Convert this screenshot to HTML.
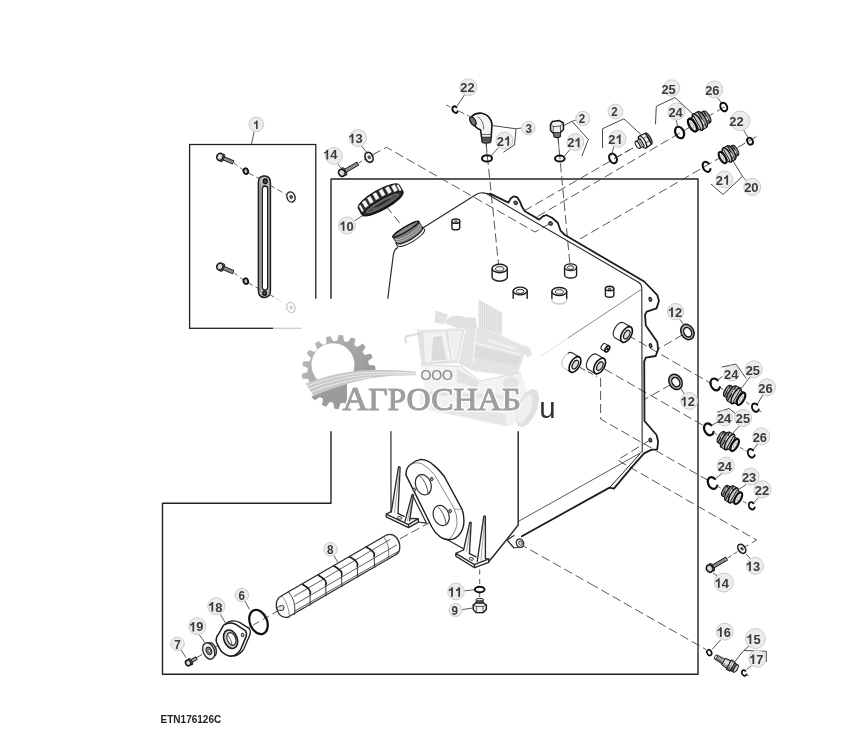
<!DOCTYPE html>
<html><head><meta charset="utf-8"><title>ETN176126C</title>
<style>
html,body{margin:0;padding:0;background:#fff;}
body{width:841px;height:731px;overflow:hidden;font-family:"Liberation Sans",sans-serif;}
svg{display:block;font-family:"Liberation Sans",sans-serif;}
.ser{font-family:"Liberation Serif",serif;}
</style></head><body>
<svg width="841" height="731" viewBox="0 0 841 731">
<defs>
<linearGradient id="fadeL" x1="0" x2="1" y1="0" y2="0"><stop offset="0" stop-color="#fff" stop-opacity="0"/><stop offset="1" stop-color="#fff" stop-opacity="1"/></linearGradient>
<linearGradient id="fadeR" x1="0" x2="1" y1="0" y2="0"><stop offset="0" stop-color="#fff" stop-opacity="1"/><stop offset="1" stop-color="#fff" stop-opacity="0"/></linearGradient>
<linearGradient id="metal" x1="0" x2="0" y1="0" y2="1"><stop offset="0" stop-color="#777"/><stop offset="0.35" stop-color="#d8d8d8"/><stop offset="0.7" stop-color="#8a8a8a"/><stop offset="1" stop-color="#444"/></linearGradient>
<linearGradient id="metal2" x1="0" x2="0" y1="0" y2="1"><stop offset="0" stop-color="#999"/><stop offset="0.4" stop-color="#eee"/><stop offset="1" stop-color="#777"/></linearGradient>
</defs>
<filter id="soft" x="0" y="0" width="100%" height="100%" filterUnits="userSpaceOnUse"><feGaussianBlur stdDeviation="0.4"/></filter>
<rect x="0" y="0" width="841" height="731" fill="#fff"/>
<g filter="url(#soft)">
<polygon points="331,179 698,179 698,674.3 162.5,674.3 162.5,503.3 331,503.3" fill="none" stroke="#222" stroke-width="1.4" stroke-linejoin="round" stroke-linecap="round" />
<rect x="189.6" y="144.5" width="126.2" height="183.8" fill="none" stroke="#222" stroke-width="1.3"/>
<polyline points="372.5,154.8 386.5,147.3 535,232 550,223.5" fill="none" stroke="#444" stroke-width="0.9" stroke-dasharray="9 4"/>
<line x1="386" y1="206" x2="402.5" y2="226.5" stroke="#444" stroke-width="0.9" stroke-dasharray="9 4"/>
<line x1="486" y1="143" x2="498.7" y2="266" stroke="#444" stroke-width="0.9" stroke-dasharray="9 4"/>
<line x1="558" y1="137.5" x2="570" y2="265" stroke="#444" stroke-width="0.9" stroke-dasharray="9 4"/>
<line x1="524" y1="211" x2="636" y2="146.2" stroke="#444" stroke-width="0.9" stroke-dasharray="9 4"/>
<line x1="617" y1="157" x2="632" y2="148.3" stroke="#444" stroke-width="0.9" stroke-dasharray="6 3"/>
<line x1="537.5" y1="216.5" x2="726" y2="106" stroke="#444" stroke-width="0.9" stroke-dasharray="9 4"/>
<line x1="580" y1="239" x2="760" y2="134.5" stroke="#444" stroke-width="0.9" stroke-dasharray="9 4"/>
<line x1="627.5" y1="335" x2="712" y2="384" stroke="#444" stroke-width="0.9" stroke-dasharray="9 4"/>
<line x1="683" y1="334.5" x2="657.5" y2="349.5" stroke="#444" stroke-width="0.9" stroke-dasharray="9 4"/>
<line x1="604.5" y1="369" x2="706" y2="427" stroke="#444" stroke-width="0.9" stroke-dasharray="9 4"/>
<line x1="580" y1="367.5" x2="597" y2="376.5" stroke="#444" stroke-width="0.9" stroke-dasharray="6 3"/>
<line x1="671" y1="384.5" x2="643.5" y2="400" stroke="#444" stroke-width="0.9" stroke-dasharray="9 4"/>
<polyline points="600.6,378 600.6,419 710,481.5" fill="none" stroke="#444" stroke-width="0.9" stroke-dasharray="9 4"/>
<polyline points="650,440 617.5,460 756.5,540 744,547.5" fill="none" stroke="#444" stroke-width="0.9" stroke-dasharray="9 4"/>
<line x1="590" y1="583.5" x2="706" y2="649.5" stroke="#444" stroke-width="0.9" stroke-dasharray="9 4"/>
<line x1="519" y1="543.5" x2="590" y2="583.5" stroke="#444" stroke-width="0.9" stroke-dasharray="9 4"/>
<line x1="400" y1="538.8" x2="437" y2="518.5" stroke="#444" stroke-width="0.9" stroke-dasharray="9 4"/>
<line x1="196" y1="658" x2="282" y2="608.5" stroke="#444" stroke-width="0.9" stroke-dasharray="7 4"/>
<line x1="479.7" y1="569.5" x2="479.7" y2="586.5" stroke="#444" stroke-width="0.9" stroke-dasharray="5 4.5"/>
<line x1="479.7" y1="592.5" x2="479.7" y2="597" stroke="#444" stroke-width="0.9" />
<path d="M397.6,247.6 Q394.2,249.8 393.4,254.5 L387.7,299 L390.9,431 L391,511.5" fill="none" stroke="#2a2a2a" stroke-width="1.2" stroke-linejoin="round" stroke-linecap="round" />
<path d="M420.8,229.2 L474.5,195.5 Q478.5,192.3 483,192.8 L492.8,194.6" fill="none" stroke="#2a2a2a" stroke-width="1.2" stroke-linejoin="round" stroke-linecap="round" />
<polyline points="490,193.6 508.5,202.6 510.7,198.5 513.5,196.4 517.1,197.1 519.9,201.4 522.1,207.1 524.9,211.3 539.2,219.6 542.8,216.4 546.3,215 552,217.8 557.8,222.8 560.6,230.7 564.9,235 644.2,281.5 657.3,295.2 659,301 656.5,308.4 646.7,311.7 645,314.9 645.8,325.6 657.3,342 658.1,349.4 655.7,356 645.8,357.6 644.2,361.7 644.5,421 656.6,435 658.1,441.6 657.2,449.3 651.1,449.9 644,453.4 631.2,467.9 613.9,488.7 609.5,487.6" fill="none" stroke="#1c1c1c" stroke-width="1.8" stroke-linejoin="round" stroke-linecap="round" />
<path d="M486.4,193.6 L638.5,282.2 Q641.6,284 641.8,288 L642.2,451.5" fill="none" stroke="#2a2a2a" stroke-width="1.1" stroke-linejoin="round" stroke-linecap="round" />
<path d="M639.8,454 L609.8,487.4" fill="none" stroke="#2a2a2a" stroke-width="1.0" stroke-linejoin="round" stroke-linecap="round" />
<path d="M609.5,487.6 L521.9,536.2" fill="none" stroke="#1c1c1c" stroke-width="1.8" stroke-linejoin="round" stroke-linecap="round" />
<path d="M642.3,451.8 L518.2,521.5" fill="none" stroke="#444" stroke-width="0.9" stroke-linejoin="round" stroke-linecap="round" />
<path d="M641.8,289 L541,356" fill="none" stroke="#666" stroke-width="0.8" stroke-linejoin="round" stroke-linecap="round" />
<path d="M518.2,372 L518.2,525 L494.1,555.2 L488.8,561.5" fill="none" stroke="#222" stroke-width="1.4" stroke-linejoin="round" stroke-linecap="round" />
<path d="M518.2,525 Q514,531 503.1,544.5" fill="none" stroke="#444" stroke-width="0.9" stroke-linejoin="round" stroke-linecap="round" />
<ellipse cx="515.7" cy="202.8" rx="1.9" ry="1.6" transform="rotate(30 515.7 202.8)" fill="#777" stroke="#2a2a2a" stroke-width="1.2" />
<ellipse cx="550.6" cy="223.5" rx="1.9" ry="1.6" transform="rotate(30 550.6 223.5)" fill="#777" stroke="#2a2a2a" stroke-width="1.2" />
<ellipse cx="650.3" cy="299.3" rx="1.3" ry="2.0" transform="rotate(-20 650.3 299.3)" fill="#666" stroke="#2a2a2a" stroke-width="1.2" />
<ellipse cx="650.6" cy="345.6" rx="1.3" ry="2.0" transform="rotate(-20 650.6 345.6)" fill="#666" stroke="#2a2a2a" stroke-width="1.2" />
<ellipse cx="650.4" cy="440.1" rx="1.3" ry="2.0" transform="rotate(-20 650.4 440.1)" fill="#666" stroke="#2a2a2a" stroke-width="1.2" />
<path d="M514,535.5 L507,540 L514,548 L520,547" fill="#fff" stroke="#2a2a2a" stroke-width="1.2" stroke-linejoin="round" stroke-linecap="round" />
<ellipse cx="520" cy="543.2" rx="3.6" ry="4.3" transform="rotate(-25 520 543.2)" fill="#fff" stroke="#2a2a2a" stroke-width="1.4" />
<ellipse cx="520.5" cy="543.2" rx="1.7" ry="2.2" transform="rotate(-25 520.5 543.2)" fill="#ddd" stroke="#444" stroke-width="0.9" />
<path d="M386.2,514.2 L391.2,511.6 M397.8,513.3 L404,516.3 M409.5,518.5 L418.3,518.7 L418.3,522.2 L408.5,527.6 L386.2,516.9 L386.2,514.2 L408.5,524.6 L418.3,518.7 M408.5,524.6 L408.5,527.6" fill="none" stroke="#2a2a2a" stroke-width="1.35" stroke-linejoin="round" stroke-linecap="round" />
<ellipse cx="399.6" cy="517.8" rx="2.3" ry="1.3" transform="rotate(15 399.6 517.8)" fill="none" stroke="#2a2a2a" stroke-width="0.9" />
<path d="M391.3,512 L398.5,467.2 Q399.3,466 400.1,467.5 L398,513.5" fill="#fff" stroke="#2a2a2a" stroke-width="1.35" stroke-linejoin="round" stroke-linecap="round" />
<path d="M394.5,512.8 L399.5,470" fill="none" stroke="#666" stroke-width="0.6" stroke-linejoin="round" stroke-linecap="round" />
<path d="M405,521.3 L412,495 Q412.8,493.8 413.5,495.2 L409.6,520.6" fill="#fff" stroke="#2a2a2a" stroke-width="1.35" stroke-linejoin="round" stroke-linecap="round" />
<path d="M407.4,521 L412.8,497" fill="none" stroke="#666" stroke-width="0.6" stroke-linejoin="round" stroke-linecap="round" />
<path d="M413.2,496.5 L426.4,523.1 L418.3,522" fill="none" stroke="#2a2a2a" stroke-width="1.2" stroke-linejoin="round" stroke-linecap="round" />
<path d="M455.8,553.4 L463.4,550 M469.5,553.6 L476,556.8 M485.5,558.6 L488.8,558.8 L488.8,562.4 L474.5,567.7 L455.8,556.1 L455.8,553.4 L474.5,564.6 L488.8,558.8 M474.5,564.6 L474.5,567.7" fill="none" stroke="#2a2a2a" stroke-width="1.35" stroke-linejoin="round" stroke-linecap="round" />
<ellipse cx="471.3" cy="558.8" rx="2.3" ry="1.3" transform="rotate(15 471.3 558.8)" fill="none" stroke="#2a2a2a" stroke-width="0.9" />
<path d="M463.6,550 L469.7,522.8 Q470.4,521.4 471.2,522.8 L469.4,553.6" fill="#fff" stroke="#2a2a2a" stroke-width="1.35" stroke-linejoin="round" stroke-linecap="round" />
<path d="M466.6,551.5 L470.6,525" fill="none" stroke="#666" stroke-width="0.6" stroke-linejoin="round" stroke-linecap="round" />
<path d="M477.2,561.5 L483.8,516.6 Q484.6,515.2 485.4,516.6 L485.4,558.8" fill="#fff" stroke="#2a2a2a" stroke-width="1.35" stroke-linejoin="round" stroke-linecap="round" />
<path d="M481,560 L484.8,519" fill="none" stroke="#666" stroke-width="0.6" stroke-linejoin="round" stroke-linecap="round" />
<path d="M447,539.5 L463,548.5" fill="none" stroke="#2a2a2a" stroke-width="1.2" stroke-linejoin="round" stroke-linecap="round" />
<path d="M406,475.1 Q405.6,468 410.8,464.2 Q415.5,460.2 421,459.4 Q427.5,459.6 433.4,464.9 Q439.5,470 444.3,476.5 L462.1,509.3 Q464.8,517 463.5,525.8 Q461.5,534.5 454.5,538.6 Q447,541.5 440,536.8 Q435,533 431.7,526.7 Z" fill="#fff" stroke="#1c1c1c" stroke-width="1.4" stroke-linejoin="round" stroke-linecap="round" />
<path d="M410.8,464.2 Q416.5,461.2 421.5,463.6 Q429,467.5 434.7,475.1 L453.9,508 Q457.5,515 457,524 Q455.5,533 449.5,538.8" fill="none" stroke="#555" stroke-width="0.7" stroke-linejoin="round" stroke-linecap="round" />
<path d="M454.6,509.2 L462.1,509.3" fill="none" stroke="#666" stroke-width="0.6" stroke-linejoin="round" stroke-linecap="round" />
<ellipse cx="423.3" cy="484.7" rx="7.7" ry="10.4" transform="rotate(-20 423.3 484.7)" fill="none" stroke="#2a2a2a" stroke-width="1.2" />
<path d="M419.6,475.8 Q426.4,481 428.4,494" fill="none" stroke="#444" stroke-width="0.9" stroke-linejoin="round" stroke-linecap="round" />
<ellipse cx="441.2" cy="515.5" rx="7.7" ry="10.4" transform="rotate(-20 441.2 515.5)" fill="none" stroke="#2a2a2a" stroke-width="1.2" />
<path d="M437.5,506.6 Q444.3,511.8 446.3,524.8" fill="none" stroke="#444" stroke-width="0.9" stroke-linejoin="round" stroke-linecap="round" />
<ellipse cx="431.7" cy="479" rx="1.4" ry="1.7" transform="rotate(-18 431.7 479)" fill="#999" stroke="#333" stroke-width="0.9" />
<ellipse cx="414.2" cy="489.8" rx="1.4" ry="1.7" transform="rotate(-18 414.2 489.8)" fill="#999" stroke="#333" stroke-width="0.9" />
<ellipse cx="450.2" cy="511" rx="1.4" ry="1.7" transform="rotate(-18 450.2 511)" fill="#999" stroke="#333" stroke-width="0.9" />
<path d="M281.6,595.8 L387,534.8 Q392.5,533.2 396.5,537.5 Q401.5,544.5 399,551.4 Q397.8,553.8 395.6,554.8 L288.6,616.8 Q283.5,618.8 279.3,614.4 Q274.8,607.5 277,600.4 Q278.5,597 281.6,595.8 Z" fill="#fff" stroke="#2a2a2a" stroke-width="1.3" stroke-linejoin="round" stroke-linecap="round" />
<path d="M288.6,592 Q296.5,601 294.6,614.6" fill="none" stroke="#333" stroke-width="0.9" stroke-linejoin="round" stroke-linecap="round" />
<path d="M281.6,595.8 Q288.8,603 289.6,617.8" fill="none" stroke="#666" stroke-width="0.7" stroke-linejoin="round" stroke-linecap="round" />
<ellipse cx="281.6" cy="608" rx="2.2" ry="2.6" transform="rotate(28 281.6 608)" fill="#eee" stroke="#2a2a2a" stroke-width="0.9" />
<path d="M279.8,606 L277.8,607.2 Q276.6,608.6 277.8,610.2 L280,610.3" fill="#fff" stroke="#2a2a2a" stroke-width="0.8" stroke-linejoin="round" stroke-linecap="round" />
<path d="M383.5,536.7 Q391,545 388,560" fill="none" stroke="#555" stroke-width="0.8" stroke-linejoin="round" stroke-linecap="round" />
<path d="M294,596.5 L390,539.5 M295.5,604 L396.5,545 M295,611 L398,551.5" fill="none" stroke="#333" stroke-width="0.8" stroke-linejoin="round" stroke-linecap="round" />
<path d="M302.8,584.4 Q312.1,589.9 310.1,593.9" fill="none" stroke="#1a1a1a" stroke-width="1.7" stroke-linejoin="round" stroke-linecap="round" />
<path d="M310.1,593.9 Q310.1,598.9 310.1,605.4" fill="none" stroke="#333" stroke-width="1.0" stroke-linejoin="round" stroke-linecap="round" />
<path d="M318.4,575.2 Q327.8,580.6 325.8,584.6" fill="none" stroke="#1a1a1a" stroke-width="1.7" stroke-linejoin="round" stroke-linecap="round" />
<path d="M325.8,584.6 Q325.8,589.6 326.0,596.0" fill="none" stroke="#333" stroke-width="1.0" stroke-linejoin="round" stroke-linecap="round" />
<path d="M334.0,566.0 Q343.6,571.3 341.6,575.3" fill="none" stroke="#1a1a1a" stroke-width="1.7" stroke-linejoin="round" stroke-linecap="round" />
<path d="M341.6,575.3 Q341.6,580.3 341.9,586.7" fill="none" stroke="#333" stroke-width="1.0" stroke-linejoin="round" stroke-linecap="round" />
<path d="M349.6,556.8 Q359.3,562.1 357.3,566.1" fill="none" stroke="#1a1a1a" stroke-width="1.7" stroke-linejoin="round" stroke-linecap="round" />
<path d="M357.3,566.1 Q357.3,571.1 357.8,577.3" fill="none" stroke="#333" stroke-width="1.0" stroke-linejoin="round" stroke-linecap="round" />
<path d="M366.2,547.0 Q376.1,552.2 374.1,556.2" fill="none" stroke="#1a1a1a" stroke-width="1.7" stroke-linejoin="round" stroke-linecap="round" />
<path d="M374.1,556.2 Q374.1,561.2 374.8,567.3" fill="none" stroke="#333" stroke-width="1.0" stroke-linejoin="round" stroke-linecap="round" />
<g transform="translate(405.8,229.2) rotate(-31)">
<path d="M-15.8,7 L-15.8,9.8 A15.8,4.4 0 0 0 15.8,9.8 L15.8,7 Z" fill="#f0f0f0" stroke="#1c1c1c" stroke-width="1.0"/>
<path d="M-15,0 L-15,7.2 A15,4.2 0 0 0 15,7.2 L15,0 Z" fill="#7c7c7c" stroke="#1c1c1c" stroke-width="1.2"/>
<path d="M-15,2.4 A15,4.2 0 0 0 15,2.4 M-15,4.6 A15,4.2 0 0 0 15,4.6" fill="none" stroke="#c8c8c8" stroke-width="0.8"/>
<ellipse cx="0" cy="0" rx="15" ry="2.4" fill="#8a8a8a" stroke="#111" stroke-width="1.4"/>
</g>
<g transform="translate(380.9,200.4) rotate(-29.5)">
<path d="M-23.5,3.2 L-23.5,-4.2 A23.5,6.2 0 0 1 23.5,-4.2 L23.5,3.2 A23.5,6.2 0 0 1 -23.5,3.2 Z" fill="#2c2c2c" stroke="#111" stroke-width="1.2"/>
<rect x="-22.3" y="-6.3" width="2.6" height="7.2" fill="#f6f6f6" stroke="#222" stroke-width="0.5"/>
<rect x="-17.6" y="-8.2" width="4.4" height="7.2" fill="#f6f6f6" stroke="#222" stroke-width="0.5"/>
<rect x="-11.2" y="-9.2" width="4.4" height="7.2" fill="#f6f6f6" stroke="#222" stroke-width="0.5"/>
<rect x="-4.4" y="-9.7" width="4.4" height="7.2" fill="#f6f6f6" stroke="#222" stroke-width="0.5"/>
<rect x="2.6" y="-9.6" width="4.4" height="7.2" fill="#f6f6f6" stroke="#222" stroke-width="0.5"/>
<rect x="9.4" y="-8.9" width="4.4" height="7.2" fill="#f6f6f6" stroke="#222" stroke-width="0.5"/>
<rect x="15.6" y="-7.5" width="4.4" height="7.2" fill="#f6f6f6" stroke="#222" stroke-width="0.5"/>
<rect x="20.7" y="-5.7" width="2.6" height="7.2" fill="#f6f6f6" stroke="#222" stroke-width="0.5"/>
<ellipse cx="0" cy="3.6" rx="22.5" ry="4.6" fill="#333" stroke="#111" stroke-width="1.0"/>
<ellipse cx="0" cy="3.4" rx="18" ry="3.0" fill="#4c4c4c" stroke="#999" stroke-width="0.6"/>
<ellipse cx="0" cy="3.2" rx="11" ry="1.6" fill="#2c2c2c" stroke="#888" stroke-width="0.5"/>
</g>
<path d="M451.90000000000003,221.2 L451.90000000000003,227.7 A3.9,2.145 0 0 0 459.7,227.7 L459.7,221.2" fill="#fff" stroke="#1c1c1c" stroke-width="1.4" stroke-linejoin="round" stroke-linecap="round" />
<ellipse cx="455.8" cy="221.2" rx="3.9" ry="2.145" transform="rotate(0 455.8 221.2)" fill="#fff" stroke="#1c1c1c" stroke-width="1.4" />
<ellipse cx="455.8" cy="221.6" rx="1.365" ry="0.7507499999999999" transform="rotate(0 455.8 221.6)" fill="#f2f2f2" stroke="#333" stroke-width="1.0" />
<path d="M492.09999999999997,268.5 L492.09999999999997,277.0 A7.6,4.18 0 0 0 507.3,277.0 L507.3,268.5" fill="#fff" stroke="#1c1c1c" stroke-width="1.4" stroke-linejoin="round" stroke-linecap="round" />
<ellipse cx="499.7" cy="268.5" rx="7.6" ry="4.18" transform="rotate(0 499.7 268.5)" fill="#fff" stroke="#1c1c1c" stroke-width="1.4" />
<ellipse cx="499.7" cy="268.9" rx="4.18" ry="2.299" transform="rotate(0 499.7 268.9)" fill="#f2f2f2" stroke="#333" stroke-width="1.0" />
<path d="M564.6,267.2 L564.6,274.7 A6.0,3.3000000000000003 0 0 0 576.6,274.7 L576.6,267.2" fill="#fff" stroke="#1c1c1c" stroke-width="1.4" stroke-linejoin="round" stroke-linecap="round" />
<ellipse cx="570.6" cy="267.2" rx="6.0" ry="3.3000000000000003" transform="rotate(0 570.6 267.2)" fill="#fff" stroke="#1c1c1c" stroke-width="1.4" />
<ellipse cx="570.6" cy="267.59999999999997" rx="3.3000000000000003" ry="1.8150000000000004" transform="rotate(0 570.6 267.59999999999997)" fill="#f2f2f2" stroke="#333" stroke-width="1.0" />
<path d="M551.9,291.5 L551.9,300.0 A7.4,4.07 0 0 0 566.6999999999999,300.0 L566.6999999999999,291.5" fill="#fff" stroke="#1c1c1c" stroke-width="1.4" stroke-linejoin="round" stroke-linecap="round" />
<ellipse cx="559.3" cy="291.5" rx="7.4" ry="4.07" transform="rotate(0 559.3 291.5)" fill="#fff" stroke="#1c1c1c" stroke-width="1.4" />
<ellipse cx="559.3" cy="291.9" rx="4.07" ry="2.2385" transform="rotate(0 559.3 291.9)" fill="#f2f2f2" stroke="#333" stroke-width="1.0" />
<path d="M605.4,288.5 L605.4,295.0 A4.2,2.3100000000000005 0 0 0 613.8000000000001,295.0 L613.8000000000001,288.5" fill="#fff" stroke="#1c1c1c" stroke-width="1.4" stroke-linejoin="round" stroke-linecap="round" />
<ellipse cx="609.6" cy="288.5" rx="4.2" ry="2.3100000000000005" transform="rotate(0 609.6 288.5)" fill="#fff" stroke="#1c1c1c" stroke-width="1.4" />
<ellipse cx="609.6" cy="288.9" rx="1.47" ry="0.8085000000000001" transform="rotate(0 609.6 288.9)" fill="#f2f2f2" stroke="#333" stroke-width="1.0" />
<path d="M513.2,291 L513.2,299 A7.0,3.8500000000000005 0 0 0 527.2,299 L527.2,291" fill="#fff" stroke="#1c1c1c" stroke-width="1.4" stroke-linejoin="round" stroke-linecap="round" />
<ellipse cx="520.2" cy="291" rx="7.0" ry="3.8500000000000005" transform="rotate(0 520.2 291)" fill="#fff" stroke="#1c1c1c" stroke-width="1.4" />
<ellipse cx="520.2" cy="291.4" rx="3.8500000000000005" ry="2.1175000000000006" transform="rotate(0 520.2 291.4)" fill="#f2f2f2" stroke="#333" stroke-width="1.0" />
<g transform="translate(626.5,334.5) rotate(30)">
<path d="M0,-8.6 L-8.5,-8.6 A4.73,8.6 0 0 0 -8.5,8.6 L0,8.6" fill="#fff" stroke="#2a2a2a" stroke-width="1.1"/>
<ellipse cx="0" cy="0" rx="4.73" ry="8.6" fill="#fff" stroke="#111" stroke-width="1.6"/>
<ellipse cx="0.3" cy="0" rx="2.6015000000000006" ry="4.73" fill="#ddd" stroke="#222" stroke-width="1.2"/>
</g>
<g transform="translate(575,364.5) rotate(30)">
<path d="M0,-8.6 L-8.5,-8.6 A4.73,8.6 0 0 0 -8.5,8.6 L0,8.6" fill="#fff" stroke="#2a2a2a" stroke-width="1.1"/>
<ellipse cx="0" cy="0" rx="4.73" ry="8.6" fill="#fff" stroke="#111" stroke-width="1.6"/>
<ellipse cx="0.3" cy="0" rx="2.6015000000000006" ry="4.73" fill="#ddd" stroke="#222" stroke-width="1.2"/>
</g>
<g transform="translate(599.6,366) rotate(30)">
<path d="M0,-8.6 L-8.5,-8.6 A4.73,8.6 0 0 0 -8.5,8.6 L0,8.6" fill="#fff" stroke="#2a2a2a" stroke-width="1.1"/>
<ellipse cx="0" cy="0" rx="4.73" ry="8.6" fill="#fff" stroke="#111" stroke-width="1.6"/>
<ellipse cx="0.3" cy="0" rx="2.6015000000000006" ry="4.73" fill="#ddd" stroke="#222" stroke-width="1.2"/>
</g>
<g transform="translate(607.3,348.8) rotate(30)">
<path d="M0,-3.4 L-4.5,-3.4 A1.87,3.4 0 0 0 -4.5,3.4 L0,3.4" fill="#fff" stroke="#2a2a2a" stroke-width="1.1"/>
<ellipse cx="0" cy="0" rx="1.87" ry="3.4" fill="#fff" stroke="#111" stroke-width="1.6"/>
<ellipse cx="0.3" cy="0" rx="0.561" ry="1.02" fill="#ddd" stroke="#222" stroke-width="1.2"/>
</g>
<path d="M258.4,182.5 Q258.2,176.6 263.5,176 Q268.5,175.6 269.9,179.5 Q270.4,181 270.4,183.5 L270.4,291 Q270.2,296 266,297.3 Q261.5,298 259.4,295 Q258.4,293 258.4,290.5 Z" fill="#b8b8b8" stroke="#1c1c1c" stroke-width="1.5" stroke-linejoin="round" stroke-linecap="round" />
<path d="M262.3,189 Q262.3,186.2 264.8,186 Q267.6,186 267.7,189 L267.7,287.5 Q267.5,290 265,290.2 Q262.5,290 262.3,287.5 Z" fill="#fff" stroke="#1c1c1c" stroke-width="1.3" stroke-linejoin="round" stroke-linecap="round" />
<path d="M260.2,184 L260.2,292" fill="none" stroke="#666" stroke-width="0.6" stroke-linejoin="round" stroke-linecap="round" />
<ellipse cx="265.3" cy="181.3" rx="1.9" ry="2.3" transform="rotate(0 265.3 181.3)" fill="#555" stroke="#111" stroke-width="1.4" />
<ellipse cx="264.6" cy="293.3" rx="1.8" ry="2.1" transform="rotate(0 264.6 293.3)" fill="#555" stroke="#111" stroke-width="1.3" />
<g transform="translate(220.3,157) rotate(22.651891652090654)">
<rect x="2" y="-1.7" width="11.8" height="3.4" fill="#c4c4c4" stroke="#1c1c1c" stroke-width="1.0"/>
<path d="M6.0,-1.7 L6.0,1.7 M7.5,-1.7 L7.5,1.7 M9.0,-1.7 L9.0,1.7 M10.5,-1.7 L10.5,1.7 M12.0,-1.7 L12.0,1.7 " stroke="#333" stroke-width="0.55"/>
<ellipse cx="2.2" cy="0" rx="1.8" ry="4.0" fill="#bbb" stroke="#1c1c1c" stroke-width="1.0"/>
<ellipse cx="-0.4" cy="0" rx="3.096" ry="3.6" fill="#d8d8d8" stroke="#151515" stroke-width="1.6"/>
<ellipse cx="-0.6" cy="0" rx="1.4400000000000002" ry="1.8" fill="#f4f4f4" stroke="#999" stroke-width="0.5"/>
</g>
<g transform="translate(220.3,266.7) rotate(22.651891652090654)">
<rect x="2" y="-1.7" width="11.8" height="3.4" fill="#c4c4c4" stroke="#1c1c1c" stroke-width="1.0"/>
<path d="M6.0,-1.7 L6.0,1.7 M7.5,-1.7 L7.5,1.7 M9.0,-1.7 L9.0,1.7 M10.5,-1.7 L10.5,1.7 M12.0,-1.7 L12.0,1.7 " stroke="#333" stroke-width="0.55"/>
<ellipse cx="2.2" cy="0" rx="1.8" ry="4.0" fill="#bbb" stroke="#1c1c1c" stroke-width="1.0"/>
<ellipse cx="-0.4" cy="0" rx="3.096" ry="3.6" fill="#d8d8d8" stroke="#151515" stroke-width="1.6"/>
<ellipse cx="-0.6" cy="0" rx="1.4400000000000002" ry="1.8" fill="#f4f4f4" stroke="#999" stroke-width="0.5"/>
</g>
<ellipse cx="245.8" cy="171.2" rx="2.3" ry="2.9" transform="rotate(-20 245.8 171.2)" fill="#bbb" stroke="#111" stroke-width="1.8" />
<ellipse cx="245.8" cy="281.2" rx="2.3" ry="2.9" transform="rotate(-20 245.8 281.2)" fill="#bbb" stroke="#111" stroke-width="1.8" />
<g opacity="1">
<ellipse cx="291" cy="197" rx="4.0" ry="5.2" transform="rotate(-20 291 197)" fill="#f4f4f4" stroke="#1c1c1c" stroke-width="1.4" />
<ellipse cx="291.2" cy="197" rx="1.32" ry="1.7160000000000002" transform="rotate(-20 291.2 197)" fill="#555" stroke="#333" stroke-width="0.8" />
</g>
<g opacity="1">
<ellipse cx="291" cy="307.5" rx="4.0" ry="5.2" transform="rotate(-20 291 307.5)" fill="#f4f4f4" stroke="#1c1c1c" stroke-width="1.4" />
<ellipse cx="291.2" cy="307.5" rx="1.32" ry="1.7160000000000002" transform="rotate(-20 291.2 307.5)" fill="#555" stroke="#333" stroke-width="0.8" />
</g>
<line x1="233.5" y1="162.8" x2="243" y2="169.8" stroke="#444" stroke-width="0.8" stroke-dasharray="5 3"/>
<line x1="249" y1="173.3" x2="259.5" y2="178.8" stroke="#444" stroke-width="0.8" stroke-dasharray="5 3"/>
<line x1="269.5" y1="184.8" x2="286" y2="194.5" stroke="#444" stroke-width="0.8" stroke-dasharray="6 3"/>
<line x1="233.5" y1="272.6" x2="243" y2="279.6" stroke="#444" stroke-width="0.8" stroke-dasharray="5 3"/>
<line x1="248.5" y1="283" x2="261" y2="290" stroke="#444" stroke-width="0.8" stroke-dasharray="5 3"/>
<line x1="269" y1="294" x2="286" y2="304.5" stroke="#444" stroke-width="0.8" stroke-dasharray="6 3"/>
<g transform="translate(342.2,172.6) rotate(-29.9816393688493)">
<rect x="2" y="-1.7" width="16.0" height="3.4" fill="#c4c4c4" stroke="#1c1c1c" stroke-width="1.0"/>
<path d="M6.0,-1.7 L6.0,1.7 M7.5,-1.7 L7.5,1.7 M9.0,-1.7 L9.0,1.7 M10.5,-1.7 L10.5,1.7 M12.0,-1.7 L12.0,1.7 M13.5,-1.7 L13.5,1.7 M15.0,-1.7 L15.0,1.7 M16.5,-1.7 L16.5,1.7 " stroke="#333" stroke-width="0.55"/>
<ellipse cx="2.2" cy="0" rx="1.85" ry="4.1000000000000005" fill="#bbb" stroke="#1c1c1c" stroke-width="1.0"/>
<ellipse cx="-0.4" cy="0" rx="3.182" ry="3.7" fill="#d8d8d8" stroke="#151515" stroke-width="1.6"/>
<ellipse cx="-0.6" cy="0" rx="1.4800000000000002" ry="1.85" fill="#f4f4f4" stroke="#999" stroke-width="0.5"/>
</g>
<g opacity="1">
<ellipse cx="369" cy="157.3" rx="3.8" ry="5.2" transform="rotate(-25 369 157.3)" fill="#f4f4f4" stroke="#1c1c1c" stroke-width="1.7" />
<ellipse cx="369.2" cy="157.3" rx="1.14" ry="1.56" transform="rotate(-25 369.2 157.3)" fill="#555" stroke="#333" stroke-width="0.8" />
</g>
<line x1="358.5" y1="163" x2="365" y2="159.5" stroke="#444" stroke-width="0.8" stroke-dasharray="4 2"/>
<line x1="446" y1="105" x2="452" y2="107.8" stroke="#444" stroke-width="0.8" stroke-dasharray="5 3"/>
<line x1="459" y1="111.2" x2="471" y2="117" stroke="#444" stroke-width="0.8" stroke-dasharray="6 3"/>
<g transform="translate(455.1,109.6) rotate(-25)">
<path d="M2.18,-1.48 A2.4,3.5 0 1 0 1.70,2.47" fill="none" stroke="#111" stroke-width="1.9" stroke-linecap="round"/>
</g>
<g>
<path d="M472,116 Q476,112.5 482,113.2 Q490.5,115 492,124 L491.2,137.5 L481.6,137.5 L480.6,130 Q477,128.5 474.2,125.5 Z" fill="#f4f4f4" stroke="#151515" stroke-width="1.6" stroke-linejoin="round" stroke-linecap="round" />
<path d="M471,117.5 L475.2,125.8" fill="none" stroke="#2a2a2a" stroke-width="1.0" stroke-linejoin="round" stroke-linecap="round" />
<ellipse cx="472.9" cy="121.2" rx="2.5" ry="4.6" transform="rotate(-28 472.9 121.2)" fill="#777" stroke="#151515" stroke-width="1.3" />
<path d="M481.6,137.5 L481.9,141.6 A4.4,1.6 0 0 0 490.8,141.6 L491.2,137.5" fill="#666" stroke="#151515" stroke-width="1.2" stroke-linejoin="round" stroke-linecap="round" />
<path d="M481.7,139 L491,139 M481.8,140.5 L490.9,140.5" fill="none" stroke="#333" stroke-width="0.6" stroke-linejoin="round" stroke-linecap="round" />
<path d="M478,117 Q483.5,120 483.8,129 M481.6,134.5 L491.2,134.5" fill="none" stroke="#444" stroke-width="0.8" stroke-linejoin="round" stroke-linecap="round" />
</g>
<ellipse cx="487" cy="158.4" rx="5.0" ry="3.1" transform="rotate(0 487 158.4)" fill="none" stroke="#111" stroke-width="2.0" />
<line x1="486.3" y1="143.5" x2="486.9" y2="154.5" stroke="#444" stroke-width="0.8" stroke-dasharray="5 3"/>
<g>
<path d="M550.4,124.5 L552.5,121.5 L559.5,120.6 L563.3,123 L563.5,129.5 L560.5,132.5 L553,133 L550.6,130.5 Z" fill="#f2f2f2" stroke="#151515" stroke-width="1.5" stroke-linejoin="round" stroke-linecap="round" />
<path d="M550.4,124.5 L553.4,126.6 L560.4,126 L563.3,123 M553.4,126.6 L553,133 M560.4,126 L560.5,132.5" fill="none" stroke="#333" stroke-width="0.8" stroke-linejoin="round" stroke-linecap="round" />
<path d="M553.8,133 L553.9,136.6 A3.3,1.2 0 0 0 560.4,136.6 L560.4,132.6" fill="#777" stroke="#151515" stroke-width="1.1" stroke-linejoin="round" stroke-linecap="round" />
</g>
<ellipse cx="559.8" cy="158.6" rx="4.8" ry="3.0" transform="rotate(0 559.8 158.6)" fill="none" stroke="#111" stroke-width="2.0" />
<line x1="558.2" y1="138.5" x2="559.5" y2="155" stroke="#444" stroke-width="0.8" stroke-dasharray="5 3"/>
<ellipse cx="613" cy="158.4" rx="3.6" ry="5.0" transform="rotate(-25 613 158.4)" fill="none" stroke="#111" stroke-width="2.1" />
<g transform="translate(643.4,141.6) rotate(150) scale(0.95)">
<ellipse cx="-6" cy="0" rx="2.6" ry="6.6" fill="#666" stroke="#111" stroke-width="1.0"/>
<path d="M-6,-6.6 L1,-7.2 L1,7.2 L-6,6.6 Z" fill="#f0f0f0" stroke="#111" stroke-width="1.2"/>
<path d="M-6,-2.4 L1,-2.6 M-6,2.8 L1,3" stroke="#333" stroke-width="0.7"/>
<ellipse cx="1" cy="0" rx="2.8" ry="7.2" fill="#e4e4e4" stroke="#111" stroke-width="1.2"/>
<path d="M1.5,-4.4 L7,-4.2 L7,4.2 L1.5,4.4 Z" fill="#ddd" stroke="#111" stroke-width="1.0"/>
<path d="M3.3,-4.4 L3.3,4.4 M5,-4.3 L5,4.3" stroke="#333" stroke-width="0.6"/>
<ellipse cx="7" cy="0" rx="1.8" ry="4.2" fill="#fff" stroke="#111" stroke-width="1.1"/>
</g>
<ellipse cx="679.6" cy="132.5" rx="4.2" ry="6.0" transform="rotate(-25 679.6 132.5)" fill="none" stroke="#111" stroke-width="2.2" />
<g transform="translate(698.6,121.6) rotate(150) scale(1.05)">
<ellipse cx="-9" cy="0" rx="2.6" ry="6.2" fill="#9a9a9a" stroke="#111" stroke-width="1.1"/>
<path d="M-9,-6.2 L-4,-6.4 L-4,6.4 L-9,6.2 Z" fill="#a4a4a4" stroke="#111" stroke-width="1.0"/>
<path d="M-9,-3.2 L-4,-3.4 L-4,0.4 L-9,0.4 Z" fill="#e8e8e8"/>
<path d="M-7.4,-6.3 L-7.4,6.3 M-5.8,-6.3 L-5.8,6.3" stroke="#333" stroke-width="0.55"/>
<ellipse cx="-4" cy="0" rx="3.2" ry="8.6" fill="#909090" stroke="#111" stroke-width="1.1"/>
<path d="M-4,-8.6 L1,-8.8 L1,8.8 L-4,8.6 Z" fill="#bdbdbd" stroke="#111" stroke-width="1.0"/>
<path d="M-4,-5 L1,-5.2 L1,0.2 L-4,0.2 Z" fill="#f8f8f8"/>
<path d="M-4,-5 L1,-5.2 M-4,3.4 L1,3.6" stroke="#222" stroke-width="0.6"/>
<ellipse cx="1" cy="0" rx="3.2" ry="8.8" fill="#cdcdcd" stroke="#111" stroke-width="1.4"/>
<path d="M1.5,-7 L6.5,-6.8 L6.5,6.8 L1.5,7 Z" fill="#dcdcdc" stroke="#111" stroke-width="0.9"/>
<path d="M3.4,-7 L3.4,7" stroke="#222" stroke-width="0.8"/>
<ellipse cx="6.8" cy="0" rx="3.0" ry="6.8" fill="#fff" stroke="#0c0c0c" stroke-width="2.2"/>
<ellipse cx="7.2" cy="0" rx="1.2" ry="3.2" fill="#efefef" stroke="#666" stroke-width="0.5"/>
</g>
<ellipse cx="723.8" cy="107" rx="3.2" ry="4.4" transform="rotate(-25 723.8 107)" fill="none" stroke="#111" stroke-width="2.0" />
<g transform="translate(706.6,166.8) rotate(-25)">
<path d="M3.26,-2.24 A3.6,5.3 0 1 0 2.55,3.75" fill="none" stroke="#111" stroke-width="2.1" stroke-linecap="round"/>
</g>
<g transform="translate(728,154.5) rotate(150) scale(0.92)">
<ellipse cx="-9" cy="0" rx="2.6" ry="6.2" fill="#9a9a9a" stroke="#111" stroke-width="1.1"/>
<path d="M-9,-6.2 L-4,-6.4 L-4,6.4 L-9,6.2 Z" fill="#a4a4a4" stroke="#111" stroke-width="1.0"/>
<path d="M-9,-3.2 L-4,-3.4 L-4,0.4 L-9,0.4 Z" fill="#e8e8e8"/>
<path d="M-7.4,-6.3 L-7.4,6.3 M-5.8,-6.3 L-5.8,6.3" stroke="#333" stroke-width="0.55"/>
<ellipse cx="-4" cy="0" rx="3.2" ry="8.6" fill="#909090" stroke="#111" stroke-width="1.1"/>
<path d="M-4,-8.6 L1,-8.8 L1,8.8 L-4,8.6 Z" fill="#bdbdbd" stroke="#111" stroke-width="1.0"/>
<path d="M-4,-5 L1,-5.2 L1,0.2 L-4,0.2 Z" fill="#f8f8f8"/>
<path d="M-4,-5 L1,-5.2 M-4,3.4 L1,3.6" stroke="#222" stroke-width="0.6"/>
<ellipse cx="1" cy="0" rx="3.2" ry="8.8" fill="#cdcdcd" stroke="#111" stroke-width="1.4"/>
<path d="M1.5,-7 L6.5,-6.8 L6.5,6.8 L1.5,7 Z" fill="#dcdcdc" stroke="#111" stroke-width="0.9"/>
<path d="M3.4,-7 L3.4,7" stroke="#222" stroke-width="0.8"/>
<ellipse cx="6.8" cy="0" rx="3.0" ry="6.8" fill="#fff" stroke="#0c0c0c" stroke-width="2.2"/>
<ellipse cx="7.2" cy="0" rx="1.2" ry="3.2" fill="#efefef" stroke="#666" stroke-width="0.5"/>
</g>
<ellipse cx="750" cy="141.2" rx="2.7" ry="3.6" transform="rotate(-25 750 141.2)" fill="none" stroke="#111" stroke-width="1.9" />
<ellipse cx="687.4" cy="332" rx="6.3" ry="8.0" transform="rotate(-30 687.4 332)" fill="#b4b4b4" stroke="#151515" stroke-width="1.5" />
<ellipse cx="687.6999999999999" cy="332.2" rx="3.7" ry="5.0" transform="rotate(-30 687.6999999999999 332.2)" fill="#fff" stroke="#151515" stroke-width="1.4" />
<ellipse cx="675.5" cy="381.9" rx="6.3" ry="8.0" transform="rotate(-30 675.5 381.9)" fill="#b4b4b4" stroke="#151515" stroke-width="1.5" />
<ellipse cx="675.8" cy="382.09999999999997" rx="3.7" ry="5.0" transform="rotate(-30 675.8 382.09999999999997)" fill="#fff" stroke="#151515" stroke-width="1.4" />
<g transform="translate(715.2,384.4) rotate(-25)">
<path d="M3.99,-2.62 A4.4,6.2 0 1 0 3.11,4.38" fill="none" stroke="#111" stroke-width="2.2" stroke-linecap="round"/>
</g>
<g transform="translate(735.2,395.4) rotate(30) scale(1.0)">
<ellipse cx="-9" cy="0" rx="2.6" ry="6.2" fill="#9a9a9a" stroke="#111" stroke-width="1.1"/>
<path d="M-9,-6.2 L-4,-6.4 L-4,6.4 L-9,6.2 Z" fill="#a4a4a4" stroke="#111" stroke-width="1.0"/>
<path d="M-9,-3.2 L-4,-3.4 L-4,0.4 L-9,0.4 Z" fill="#e8e8e8"/>
<path d="M-7.4,-6.3 L-7.4,6.3 M-5.8,-6.3 L-5.8,6.3" stroke="#333" stroke-width="0.55"/>
<ellipse cx="-4" cy="0" rx="3.2" ry="8.6" fill="#909090" stroke="#111" stroke-width="1.1"/>
<path d="M-4,-8.6 L1,-8.8 L1,8.8 L-4,8.6 Z" fill="#bdbdbd" stroke="#111" stroke-width="1.0"/>
<path d="M-4,-5 L1,-5.2 L1,0.2 L-4,0.2 Z" fill="#f8f8f8"/>
<path d="M-4,-5 L1,-5.2 M-4,3.4 L1,3.6" stroke="#222" stroke-width="0.6"/>
<ellipse cx="1" cy="0" rx="3.2" ry="8.8" fill="#cdcdcd" stroke="#111" stroke-width="1.4"/>
<path d="M1.5,-7 L6.5,-6.8 L6.5,6.8 L1.5,7 Z" fill="#dcdcdc" stroke="#111" stroke-width="0.9"/>
<path d="M3.4,-7 L3.4,7" stroke="#222" stroke-width="0.8"/>
<ellipse cx="6.8" cy="0" rx="3.0" ry="6.8" fill="#fff" stroke="#0c0c0c" stroke-width="2.2"/>
<ellipse cx="7.2" cy="0" rx="1.2" ry="3.2" fill="#efefef" stroke="#666" stroke-width="0.5"/>
</g>
<g transform="translate(755.4,407.6) rotate(-25)">
<path d="M2.90,-1.86 A3.2,4.4 0 1 0 2.26,3.11" fill="none" stroke="#111" stroke-width="2.0" stroke-linecap="round"/>
</g>
<line x1="719" y1="387" x2="727" y2="391.5" stroke="#444" stroke-width="0.8" stroke-dasharray="5 2"/>
<line x1="746" y1="402" x2="752" y2="405.8" stroke="#444" stroke-width="0.8" stroke-dasharray="4 2"/>
<line x1="758" y1="410" x2="762.5" y2="412.5" stroke="#444" stroke-width="0.8" stroke-dasharray="4 2"/>
<g transform="translate(708.8,429.3) rotate(-25)">
<path d="M3.99,-2.62 A4.4,6.2 0 1 0 3.11,4.38" fill="none" stroke="#111" stroke-width="2.2" stroke-linecap="round"/>
</g>
<g transform="translate(728.8,441.6) rotate(30) scale(1.0)">
<ellipse cx="-9" cy="0" rx="2.6" ry="6.2" fill="#9a9a9a" stroke="#111" stroke-width="1.1"/>
<path d="M-9,-6.2 L-4,-6.4 L-4,6.4 L-9,6.2 Z" fill="#a4a4a4" stroke="#111" stroke-width="1.0"/>
<path d="M-9,-3.2 L-4,-3.4 L-4,0.4 L-9,0.4 Z" fill="#e8e8e8"/>
<path d="M-7.4,-6.3 L-7.4,6.3 M-5.8,-6.3 L-5.8,6.3" stroke="#333" stroke-width="0.55"/>
<ellipse cx="-4" cy="0" rx="3.2" ry="8.6" fill="#909090" stroke="#111" stroke-width="1.1"/>
<path d="M-4,-8.6 L1,-8.8 L1,8.8 L-4,8.6 Z" fill="#bdbdbd" stroke="#111" stroke-width="1.0"/>
<path d="M-4,-5 L1,-5.2 L1,0.2 L-4,0.2 Z" fill="#f8f8f8"/>
<path d="M-4,-5 L1,-5.2 M-4,3.4 L1,3.6" stroke="#222" stroke-width="0.6"/>
<ellipse cx="1" cy="0" rx="3.2" ry="8.8" fill="#cdcdcd" stroke="#111" stroke-width="1.4"/>
<path d="M1.5,-7 L6.5,-6.8 L6.5,6.8 L1.5,7 Z" fill="#dcdcdc" stroke="#111" stroke-width="0.9"/>
<path d="M3.4,-7 L3.4,7" stroke="#222" stroke-width="0.8"/>
<ellipse cx="6.8" cy="0" rx="3.0" ry="6.8" fill="#fff" stroke="#0c0c0c" stroke-width="2.2"/>
<ellipse cx="7.2" cy="0" rx="1.2" ry="3.2" fill="#efefef" stroke="#666" stroke-width="0.5"/>
</g>
<g transform="translate(751.3,453.3) rotate(-25)">
<path d="M2.90,-1.86 A3.2,4.4 0 1 0 2.26,3.11" fill="none" stroke="#111" stroke-width="2.0" stroke-linecap="round"/>
</g>
<line x1="713" y1="432" x2="720" y2="436.5" stroke="#444" stroke-width="0.8" stroke-dasharray="5 2"/>
<line x1="740" y1="447.5" x2="748" y2="451.7" stroke="#444" stroke-width="0.8" stroke-dasharray="4 2"/>
<g transform="translate(712.5,483) rotate(-25)">
<path d="M3.99,-2.62 A4.4,6.2 0 1 0 3.11,4.38" fill="none" stroke="#111" stroke-width="2.2" stroke-linecap="round"/>
</g>
<g transform="translate(732.6,495) rotate(30) scale(0.95)">
<ellipse cx="-9" cy="0" rx="2.6" ry="6.2" fill="#9a9a9a" stroke="#111" stroke-width="1.1"/>
<path d="M-9,-6.2 L-4,-6.4 L-4,6.4 L-9,6.2 Z" fill="#a4a4a4" stroke="#111" stroke-width="1.0"/>
<path d="M-9,-3.2 L-4,-3.4 L-4,0.4 L-9,0.4 Z" fill="#e8e8e8"/>
<path d="M-7.4,-6.3 L-7.4,6.3 M-5.8,-6.3 L-5.8,6.3" stroke="#333" stroke-width="0.55"/>
<ellipse cx="-4" cy="0" rx="3.2" ry="8.6" fill="#909090" stroke="#111" stroke-width="1.1"/>
<path d="M-4,-8.6 L1,-8.8 L1,8.8 L-4,8.6 Z" fill="#bdbdbd" stroke="#111" stroke-width="1.0"/>
<path d="M-4,-5 L1,-5.2 L1,0.2 L-4,0.2 Z" fill="#f8f8f8"/>
<path d="M-4,-5 L1,-5.2 M-4,3.4 L1,3.6" stroke="#222" stroke-width="0.6"/>
<ellipse cx="1" cy="0" rx="3.2" ry="8.8" fill="#cdcdcd" stroke="#111" stroke-width="1.4"/>
<path d="M1.5,-7 L6.5,-6.8 L6.5,6.8 L1.5,7 Z" fill="#dcdcdc" stroke="#111" stroke-width="0.9"/>
<path d="M3.4,-7 L3.4,7" stroke="#222" stroke-width="0.8"/>
<ellipse cx="6.8" cy="0" rx="3.0" ry="6.8" fill="#fff" stroke="#0c0c0c" stroke-width="2.2"/>
<ellipse cx="7.2" cy="0" rx="1.2" ry="3.2" fill="#efefef" stroke="#666" stroke-width="0.5"/>
</g>
<g transform="translate(751.8,505.8) rotate(-25)">
<path d="M2.54,-1.61 A2.8,3.8 0 1 0 1.98,2.69" fill="none" stroke="#111" stroke-width="1.9" stroke-linecap="round"/>
</g>
<line x1="716.5" y1="485.5" x2="723.5" y2="490" stroke="#444" stroke-width="0.8" stroke-dasharray="5 2"/>
<line x1="743" y1="501.3" x2="749" y2="504.5" stroke="#444" stroke-width="0.8" stroke-dasharray="4 2"/>
<g opacity="1">
<ellipse cx="741.8" cy="548.8" rx="3.4" ry="5.0" transform="rotate(-35 741.8 548.8)" fill="#f4f4f4" stroke="#1c1c1c" stroke-width="1.6" />
<ellipse cx="742.0" cy="548.8" rx="1.02" ry="1.5" transform="rotate(-35 742.0 548.8)" fill="#555" stroke="#333" stroke-width="0.8" />
</g>
<g transform="translate(710,568.3) rotate(-30.19162296095737)">
<rect x="2" y="-1.7" width="17.1" height="3.4" fill="#c4c4c4" stroke="#1c1c1c" stroke-width="1.0"/>
<path d="M6.0,-1.7 L6.0,1.7 M7.5,-1.7 L7.5,1.7 M9.0,-1.7 L9.0,1.7 M10.5,-1.7 L10.5,1.7 M12.0,-1.7 L12.0,1.7 M13.5,-1.7 L13.5,1.7 M15.0,-1.7 L15.0,1.7 M16.5,-1.7 L16.5,1.7 " stroke="#333" stroke-width="0.55"/>
<ellipse cx="2.2" cy="0" rx="1.85" ry="4.1000000000000005" fill="#bbb" stroke="#1c1c1c" stroke-width="1.0"/>
<ellipse cx="-0.4" cy="0" rx="3.182" ry="3.7" fill="#d8d8d8" stroke="#151515" stroke-width="1.6"/>
<ellipse cx="-0.6" cy="0" rx="1.4800000000000002" ry="1.85" fill="#f4f4f4" stroke="#999" stroke-width="0.5"/>
</g>
<line x1="727.5" y1="558" x2="737.5" y2="551.6" stroke="#444" stroke-width="0.8" stroke-dasharray="5 2"/>
<ellipse cx="709.3" cy="652.6" rx="2.2" ry="3.0" transform="rotate(-25 709.3 652.6)" fill="none" stroke="#111" stroke-width="1.6" />
<g transform="translate(725.8,662.8) rotate(30) scale(0.88)">
<path d="M-13,-2.7 L-3,-3.2 L-3,3.2 L-13,2.7 Z" fill="url(#metal)" stroke="#222" stroke-width="0.9"/>
<ellipse cx="-13" cy="0" rx="1.4" ry="2.7" fill="#ddd" stroke="#222" stroke-width="0.9"/>
<path d="M-10,-2.8 L-10,2.8 M-8,-2.9 L-8,2.9 M-6,-3 L-6,3" stroke="#333" stroke-width="0.5"/>
<path d="M-3,-4.2 L4,-5 L4,5 L-3,4.2 Z" fill="url(#metal2)" stroke="#111" stroke-width="1.0"/>
<path d="M4,-6.2 L9,-6 L9,6 L4,6.2 Z" fill="url(#metal)" stroke="#111" stroke-width="1.0"/>
<path d="M9,-5 L13,-4.8 L13,4.8 L9,5 Z" fill="url(#metal)" stroke="#111" stroke-width="1.0"/>
<ellipse cx="13" cy="0" rx="2" ry="4.8" fill="#ccc" stroke="#111" stroke-width="1.1"/>
<path d="M10.3,-5 L10.3,5 M11.6,-4.9 L11.6,4.9" stroke="#222" stroke-width="0.6"/>
</g>
<g transform="translate(744.2,673) rotate(-25)">
<path d="M1.99,-1.27 A2.2,3.0 0 1 0 1.56,2.12" fill="none" stroke="#111" stroke-width="1.6" stroke-linecap="round"/>
</g>
<line x1="746.3" y1="674.3" x2="750" y2="676.3" stroke="#444" stroke-width="0.8" stroke-dasharray="3 2"/>
<ellipse cx="479.7" cy="589.5" rx="4.9" ry="2.7" transform="rotate(0 479.7 589.5)" fill="none" stroke="#111" stroke-width="1.9" />
<g>
<path d="M476.2,599.6 L476.2,603.5 L483.2,603.5 L483.2,599.6 Z" fill="#aaa" stroke="#2a2a2a" stroke-width="1.0" stroke-linejoin="round" stroke-linecap="round" />
<ellipse cx="479.7" cy="599.6" rx="3.5" ry="1.3" transform="rotate(0 479.7 599.6)" fill="#e4e4e4" stroke="#2a2a2a" stroke-width="1.0" />
<path d="M476.2,601.4 L483.2,601.4" fill="none" stroke="#333" stroke-width="0.6" stroke-linejoin="round" stroke-linecap="round" />
<path d="M473.2,605 L475.8,603 L483.6,603 L486.4,605 L486.3,609.6 L483.4,612.6 L476,612.6 L473.3,609.6 Z" fill="#f2f2f2" stroke="#151515" stroke-width="1.4" stroke-linejoin="round" stroke-linecap="round" />
<path d="M476.4,606.4 L476.2,612.6 M483,606.4 L483.2,612.6 M473.2,605 L476.4,606.4 L483,606.4 L486.4,605" fill="none" stroke="#333" stroke-width="0.8" stroke-linejoin="round" stroke-linecap="round" />
</g>
<ellipse cx="258.5" cy="622" rx="8.6" ry="12.6" transform="rotate(-22 258.5 622)" fill="none" stroke="#111" stroke-width="2.2" />
<g>
<path d="M224.5,624.5 L228,622.2 Q234,619.6 239.5,622.4 L249,628.4 Q251.4,631.6 249.6,635.6 L244,648.6 Q240,655.4 233.5,656" fill="#fff" stroke="#1c1c1c" stroke-width="1.3" stroke-linejoin="round" stroke-linecap="round" />
<path d="M216.4,642 Q215.6,637 218.6,634 L223.6,625.2 Q229.6,621.6 235.4,624.2 L245.4,630.6 Q247.4,633.6 245.8,637.4 L240.4,650 Q236,657 229.2,656 Q221.6,654 219.2,647.8 Z" fill="#fff" stroke="#1c1c1c" stroke-width="1.5" stroke-linejoin="round" stroke-linecap="round" />
<ellipse cx="230.6" cy="639.2" rx="6.6" ry="9.6" transform="rotate(-22 230.6 639.2)" fill="#d4d4d4" stroke="#1c1c1c" stroke-width="1.6" />
<ellipse cx="231.4" cy="639" rx="4.2" ry="6.6" transform="rotate(-22 231.4 639)" fill="#fff" stroke="#2a2a2a" stroke-width="1.1" />
<path d="M227.6,634.6 Q231,638.6 232.4,645.4" fill="none" stroke="#444" stroke-width="0.8" stroke-linejoin="round" stroke-linecap="round" />
<ellipse cx="242.6" cy="635" rx="1.3" ry="1.7" transform="rotate(-22 242.6 635)" fill="#ccc" stroke="#2a2a2a" stroke-width="0.9" />
</g>
<g>
<ellipse cx="211.5" cy="649.5" rx="4.5" ry="7.2" transform="rotate(-22 211.5 649.5)" fill="#bbb" stroke="#2a2a2a" stroke-width="1.3" />
<ellipse cx="208.7" cy="651" rx="5.6" ry="8.6" transform="rotate(-22 208.7 651)" fill="#eee" stroke="#2a2a2a" stroke-width="1.3" />
<ellipse cx="208.9" cy="650.9" rx="2.6" ry="3.8" transform="rotate(-22 208.9 650.9)" fill="#999" stroke="#2a2a2a" stroke-width="1.1" />
<ellipse cx="209.2" cy="650.8" rx="1.2" ry="1.8" transform="rotate(-22 209.2 650.8)" fill="#fff" stroke="#2a2a2a" stroke-width="0.8" />
</g>
<g transform="translate(188.6,662.6) rotate(-29.427456403189577)">
<rect x="2" y="-1.4" width="7.0" height="2.8" fill="#c4c4c4" stroke="#1c1c1c" stroke-width="1.0"/>
<path d="M6.0,-1.4 L6.0,1.4 " stroke="#333" stroke-width="0.55"/>
<ellipse cx="2.2" cy="0" rx="1.5" ry="3.4" fill="#bbb" stroke="#1c1c1c" stroke-width="1.0"/>
<ellipse cx="-0.4" cy="0" rx="2.58" ry="3.0" fill="#d8d8d8" stroke="#151515" stroke-width="1.6"/>
<ellipse cx="-0.6" cy="0" rx="1.2000000000000002" ry="1.5" fill="#f4f4f4" stroke="#999" stroke-width="0.5"/>
</g>
<line x1="254.2" y1="131.5" x2="251.5" y2="144" stroke="#4a4a4a" stroke-width="0.9" />
<line x1="361.5" y1="146" x2="367.5" y2="153.5" stroke="#4a4a4a" stroke-width="0.9" />
<line x1="337.5" y1="163.3" x2="341.5" y2="169" stroke="#4a4a4a" stroke-width="0.9" />
<line x1="354.3" y1="221" x2="362.5" y2="215.8" stroke="#4a4a4a" stroke-width="0.9" />
<line x1="465" y1="94" x2="457" y2="106.3" stroke="#4a4a4a" stroke-width="0.9" />
<polyline points="492,125.5 516,128.8 514.5,145 503.8,152" fill="none" stroke="#333" stroke-width="0.9" stroke-linejoin="round" stroke-linecap="round" />
<line x1="521.5" y1="128" x2="516" y2="128.8" stroke="#4a4a4a" stroke-width="0.9" />
<line x1="498.5" y1="147.5" x2="490.8" y2="156.2" stroke="#4a4a4a" stroke-width="0.9" />
<polyline points="563.8,125.6 572,121.3 588.3,139.5 582,155.8" fill="none" stroke="#333" stroke-width="0.9" stroke-linejoin="round" stroke-linecap="round" />
<line x1="576.5" y1="120" x2="572" y2="121.3" stroke="#4a4a4a" stroke-width="0.9" />
<line x1="570" y1="149.5" x2="564.2" y2="156.2" stroke="#4a4a4a" stroke-width="0.9" />
<polyline points="602.5,147.6 602.5,128.8 623.8,118.8 640.5,134" fill="none" stroke="#333" stroke-width="0.9" stroke-linejoin="round" stroke-linecap="round" />
<line x1="613.8" y1="146.5" x2="611.5" y2="155.5" stroke="#4a4a4a" stroke-width="0.9" />
<polyline points="655.5,123.8 656.3,106.3 675,97.5 692.5,113.8" fill="none" stroke="#333" stroke-width="0.9" stroke-linejoin="round" stroke-linecap="round" />
<line x1="676.3" y1="120" x2="677.6" y2="126.6" stroke="#4a4a4a" stroke-width="0.9" />
<line x1="717.5" y1="97.5" x2="721.5" y2="103" stroke="#4a4a4a" stroke-width="0.9" />
<line x1="743.5" y1="130" x2="748.3" y2="138" stroke="#4a4a4a" stroke-width="0.9" />
<polyline points="711.3,184.3 723,194.5 742.5,176.3 733,161" fill="none" stroke="#333" stroke-width="0.9" stroke-linejoin="round" stroke-linecap="round" />
<line x1="742.5" y1="176.3" x2="746" y2="180.5" stroke="#4a4a4a" stroke-width="0.9" />
<line x1="680" y1="319.5" x2="684" y2="325" stroke="#4a4a4a" stroke-width="0.9" />
<line x1="680.5" y1="388.5" x2="684.5" y2="394" stroke="#4a4a4a" stroke-width="0.9" />
<polyline points="722,367 735.9,364.1 746,378" fill="none" stroke="#333" stroke-width="0.9" stroke-linejoin="round" stroke-linecap="round" />
<line x1="750" y1="377" x2="740" y2="390" stroke="#4a4a4a" stroke-width="0.9" />
<line x1="722.5" y1="376.5" x2="717.5" y2="380" stroke="#4a4a4a" stroke-width="0.9" />
<line x1="763" y1="394.5" x2="757.5" y2="404" stroke="#4a4a4a" stroke-width="0.9" />
<polyline points="717.5,412 729,408.5 736,414" fill="none" stroke="#333" stroke-width="0.9" stroke-linejoin="round" stroke-linecap="round" />
<line x1="739.5" y1="426" x2="731.5" y2="434.5" stroke="#4a4a4a" stroke-width="0.9" />
<line x1="717.5" y1="422" x2="711.5" y2="425.5" stroke="#4a4a4a" stroke-width="0.9" />
<line x1="757.5" y1="444" x2="753" y2="450" stroke="#4a4a4a" stroke-width="0.9" />
<line x1="722" y1="473.5" x2="715" y2="479" stroke="#4a4a4a" stroke-width="0.9" />
<line x1="746" y1="484.5" x2="738" y2="490" stroke="#4a4a4a" stroke-width="0.9" />
<line x1="758.5" y1="497.5" x2="753.5" y2="503" stroke="#4a4a4a" stroke-width="0.9" />
<line x1="746" y1="554" x2="750.5" y2="559" stroke="#4a4a4a" stroke-width="0.9" />
<line x1="713" y1="573" x2="717.5" y2="576" stroke="#4a4a4a" stroke-width="0.9" />
<line x1="720.5" y1="640" x2="712" y2="649.5" stroke="#4a4a4a" stroke-width="0.9" />
<polyline points="735,661.3 743.8,650.5 766.3,651.3 766.3,661.5" fill="none" stroke="#333" stroke-width="0.9" stroke-linejoin="round" stroke-linecap="round" />
<line x1="743.8" y1="650.5" x2="749" y2="646" stroke="#4a4a4a" stroke-width="0.9" />
<line x1="751.5" y1="665.5" x2="746.5" y2="669.5" stroke="#4a4a4a" stroke-width="0.9" />
<line x1="333.8" y1="555.5" x2="338" y2="562.5" stroke="#4a4a4a" stroke-width="0.9" />
<line x1="464.5" y1="590.8" x2="474.5" y2="589.8" stroke="#4a4a4a" stroke-width="0.9" />
<line x1="462.2" y1="609.6" x2="473" y2="608" stroke="#4a4a4a" stroke-width="0.9" />
<line x1="244.8" y1="601" x2="249.5" y2="609.5" stroke="#4a4a4a" stroke-width="0.9" />
<line x1="220.5" y1="614.5" x2="226" y2="624" stroke="#4a4a4a" stroke-width="0.9" />
<line x1="199" y1="634.5" x2="205" y2="642.5" stroke="#4a4a4a" stroke-width="0.9" />
<line x1="181" y1="650" x2="186" y2="657.5" stroke="#4a4a4a" stroke-width="0.9" />
<circle cx="256.3" cy="124.3" r="7.4" fill="#ececec" stroke="#c6c6c6" stroke-width="0.9"/>
<path transform="translate(253.06,129.12) scale(11.640,-12.000)" d="M0.393,0 L0.256,0 L0.256,0.515 Q0.18,0.445 0.077,0.41 L0.077,0.534 Q0.13,0.552 0.195,0.602 Q0.26,0.652 0.282,0.716 L0.393,0.716 Z" fill="#3a3a3a"/>
<circle cx="358" cy="138" r="8.5" fill="#ececec" stroke="#c6c6c6" stroke-width="0.9"/>
<path transform="translate(348.33,143.29) scale(12.901,-13.300)" d="M0.393,0 L0.256,0 L0.256,0.515 Q0.18,0.445 0.077,0.41 L0.077,0.534 Q0.13,0.552 0.195,0.602 Q0.26,0.652 0.282,0.716 L0.393,0.716 Z" fill="#3a3a3a"/>
<text transform="translate(355.50,143.29) scale(0.97,1)" font-size="13.3" font-weight="bold" fill="#3a3a3a">3</text>
<circle cx="333.8" cy="155.8" r="8.5" fill="#ececec" stroke="#c6c6c6" stroke-width="0.9"/>
<path transform="translate(323.13,159.39) scale(12.901,-13.300)" d="M0.393,0 L0.256,0 L0.256,0.515 Q0.18,0.445 0.077,0.41 L0.077,0.534 Q0.13,0.552 0.195,0.602 Q0.26,0.652 0.282,0.716 L0.393,0.716 Z" fill="#3a3a3a"/>
<text transform="translate(330.30,159.39) scale(0.97,1)" font-size="13.3" font-weight="bold" fill="#3a3a3a">4</text>
<circle cx="347" cy="225.5" r="8.5" fill="#ececec" stroke="#c6c6c6" stroke-width="0.9"/>
<path transform="translate(339.33,230.79) scale(12.901,-13.300)" d="M0.393,0 L0.256,0 L0.256,0.515 Q0.18,0.445 0.077,0.41 L0.077,0.534 Q0.13,0.552 0.195,0.602 Q0.26,0.652 0.282,0.716 L0.393,0.716 Z" fill="#3a3a3a"/>
<text transform="translate(346.50,230.79) scale(0.97,1)" font-size="13.3" font-weight="bold" fill="#3a3a3a">0</text>
<circle cx="468.5" cy="87.2" r="8.5" fill="#ececec" stroke="#c6c6c6" stroke-width="0.9"/>
<text transform="translate(460.33,92.49) scale(0.97,1)" font-size="13.3" font-weight="bold" fill="#3a3a3a">2</text>
<text transform="translate(467.50,92.49) scale(0.97,1)" font-size="13.3" font-weight="bold" fill="#3a3a3a">2</text>
<circle cx="528.3" cy="128" r="6.8" fill="#ececec" stroke="#c6c6c6" stroke-width="0.9"/>
<text transform="translate(525.56,132.82) scale(0.97,1)" font-size="12" font-weight="bold" fill="#3a3a3a">3</text>
<circle cx="504.5" cy="140.5" r="8.5" fill="#ececec" stroke="#c6c6c6" stroke-width="0.9"/>
<text transform="translate(496.83,145.79) scale(0.97,1)" font-size="13.3" font-weight="bold" fill="#3a3a3a">2</text>
<path transform="translate(504.00,145.79) scale(12.901,-13.300)" d="M0.393,0 L0.256,0 L0.256,0.515 Q0.18,0.445 0.077,0.41 L0.077,0.534 Q0.13,0.552 0.195,0.602 Q0.26,0.652 0.282,0.716 L0.393,0.716 Z" fill="#3a3a3a"/>
<circle cx="582.9" cy="118.5" r="7.1" fill="#ececec" stroke="#c6c6c6" stroke-width="0.9"/>
<text transform="translate(578.66,123.32) scale(0.97,1)" font-size="12" font-weight="bold" fill="#3a3a3a">2</text>
<circle cx="575.4" cy="142" r="8.5" fill="#ececec" stroke="#c6c6c6" stroke-width="0.9"/>
<text transform="translate(567.23,147.29) scale(0.97,1)" font-size="13.3" font-weight="bold" fill="#3a3a3a">2</text>
<path transform="translate(574.40,147.29) scale(12.901,-13.300)" d="M0.393,0 L0.256,0 L0.256,0.515 Q0.18,0.445 0.077,0.41 L0.077,0.534 Q0.13,0.552 0.195,0.602 Q0.26,0.652 0.282,0.716 L0.393,0.716 Z" fill="#3a3a3a"/>
<circle cx="615.4" cy="111.5" r="7.4" fill="#ececec" stroke="#c6c6c6" stroke-width="0.9"/>
<text transform="translate(611.16,116.32) scale(0.97,1)" font-size="12" font-weight="bold" fill="#3a3a3a">2</text>
<circle cx="617.5" cy="138.8" r="8.5" fill="#ececec" stroke="#c6c6c6" stroke-width="0.9"/>
<text transform="translate(608.33,144.09) scale(0.97,1)" font-size="13.3" font-weight="bold" fill="#3a3a3a">2</text>
<path transform="translate(615.50,144.09) scale(12.901,-13.300)" d="M0.393,0 L0.256,0 L0.256,0.515 Q0.18,0.445 0.077,0.41 L0.077,0.534 Q0.13,0.552 0.195,0.602 Q0.26,0.652 0.282,0.716 L0.393,0.716 Z" fill="#3a3a3a"/>
<circle cx="671.6" cy="88" r="8.2" fill="#ececec" stroke="#c6c6c6" stroke-width="0.9"/>
<text transform="translate(661.43,94.39) scale(0.97,1)" font-size="13.3" font-weight="bold" fill="#3a3a3a">2</text>
<text transform="translate(668.60,94.39) scale(0.97,1)" font-size="13.3" font-weight="bold" fill="#3a3a3a">5</text>
<circle cx="676.6" cy="111.4" r="8.5" fill="#ececec" stroke="#c6c6c6" stroke-width="0.9"/>
<text transform="translate(668.43,116.69) scale(0.97,1)" font-size="13.3" font-weight="bold" fill="#3a3a3a">2</text>
<text transform="translate(675.60,116.69) scale(0.97,1)" font-size="13.3" font-weight="bold" fill="#3a3a3a">4</text>
<circle cx="714.3" cy="89.5" r="8.5" fill="#ececec" stroke="#c6c6c6" stroke-width="0.9"/>
<text transform="translate(705.13,94.79) scale(0.97,1)" font-size="13.3" font-weight="bold" fill="#3a3a3a">2</text>
<text transform="translate(712.30,94.79) scale(0.97,1)" font-size="13.3" font-weight="bold" fill="#3a3a3a">6</text>
<circle cx="740.2" cy="120.8" r="9.8" fill="#ececec" stroke="#c6c6c6" stroke-width="0.9"/>
<text transform="translate(729.23,126.09) scale(0.97,1)" font-size="13.3" font-weight="bold" fill="#3a3a3a">2</text>
<text transform="translate(736.40,126.09) scale(0.97,1)" font-size="13.3" font-weight="bold" fill="#3a3a3a">2</text>
<circle cx="724.5" cy="179.5" r="8.5" fill="#ececec" stroke="#c6c6c6" stroke-width="0.9"/>
<text transform="translate(715.83,184.79) scale(0.97,1)" font-size="13.3" font-weight="bold" fill="#3a3a3a">2</text>
<path transform="translate(723.00,184.79) scale(12.901,-13.300)" d="M0.393,0 L0.256,0 L0.256,0.515 Q0.18,0.445 0.077,0.41 L0.077,0.534 Q0.13,0.552 0.195,0.602 Q0.26,0.652 0.282,0.716 L0.393,0.716 Z" fill="#3a3a3a"/>
<circle cx="752.3" cy="187" r="8.5" fill="#ececec" stroke="#c6c6c6" stroke-width="0.9"/>
<text transform="translate(744.13,192.29) scale(0.97,1)" font-size="13.3" font-weight="bold" fill="#3a3a3a">2</text>
<text transform="translate(751.30,192.29) scale(0.97,1)" font-size="13.3" font-weight="bold" fill="#3a3a3a">0</text>
<circle cx="675.5" cy="311.6" r="8.2" fill="#ececec" stroke="#c6c6c6" stroke-width="0.9"/>
<path transform="translate(667.83,316.89) scale(12.901,-13.300)" d="M0.393,0 L0.256,0 L0.256,0.515 Q0.18,0.445 0.077,0.41 L0.077,0.534 Q0.13,0.552 0.195,0.602 Q0.26,0.652 0.282,0.716 L0.393,0.716 Z" fill="#3a3a3a"/>
<text transform="translate(675.00,316.89) scale(0.97,1)" font-size="13.3" font-weight="bold" fill="#3a3a3a">2</text>
<circle cx="689.2" cy="400.9" r="8.4" fill="#ececec" stroke="#c6c6c6" stroke-width="0.9"/>
<path transform="translate(680.53,406.19) scale(12.901,-13.300)" d="M0.393,0 L0.256,0 L0.256,0.515 Q0.18,0.445 0.077,0.41 L0.077,0.534 Q0.13,0.552 0.195,0.602 Q0.26,0.652 0.282,0.716 L0.393,0.716 Z" fill="#3a3a3a"/>
<text transform="translate(687.70,406.19) scale(0.97,1)" font-size="13.3" font-weight="bold" fill="#3a3a3a">2</text>
<circle cx="731.7" cy="373.3" r="7.6" fill="#ececec" stroke="#c6c6c6" stroke-width="0.9"/>
<text transform="translate(724.03,378.59) scale(0.97,1)" font-size="13.3" font-weight="bold" fill="#3a3a3a">2</text>
<text transform="translate(731.20,378.59) scale(0.97,1)" font-size="13.3" font-weight="bold" fill="#3a3a3a">4</text>
<circle cx="753.8" cy="369.3" r="8.5" fill="#ececec" stroke="#c6c6c6" stroke-width="0.9"/>
<text transform="translate(745.63,374.59) scale(0.97,1)" font-size="13.3" font-weight="bold" fill="#3a3a3a">2</text>
<text transform="translate(752.80,374.59) scale(0.97,1)" font-size="13.3" font-weight="bold" fill="#3a3a3a">5</text>
<circle cx="767" cy="387.3" r="8.5" fill="#ececec" stroke="#c6c6c6" stroke-width="0.9"/>
<text transform="translate(758.33,392.59) scale(0.97,1)" font-size="13.3" font-weight="bold" fill="#3a3a3a">2</text>
<text transform="translate(765.50,392.59) scale(0.97,1)" font-size="13.3" font-weight="bold" fill="#3a3a3a">6</text>
<circle cx="724.6" cy="418.2" r="7.8" fill="#ececec" stroke="#c6c6c6" stroke-width="0.9"/>
<text transform="translate(716.93,423.49) scale(0.97,1)" font-size="13.3" font-weight="bold" fill="#3a3a3a">2</text>
<text transform="translate(724.10,423.49) scale(0.97,1)" font-size="13.3" font-weight="bold" fill="#3a3a3a">4</text>
<circle cx="743" cy="418" r="8.5" fill="#ececec" stroke="#c6c6c6" stroke-width="0.9"/>
<text transform="translate(735.83,423.29) scale(0.97,1)" font-size="13.3" font-weight="bold" fill="#3a3a3a">2</text>
<text transform="translate(743.00,423.29) scale(0.97,1)" font-size="13.3" font-weight="bold" fill="#3a3a3a">5</text>
<circle cx="761.3" cy="436.3" r="8.5" fill="#ececec" stroke="#c6c6c6" stroke-width="0.9"/>
<text transform="translate(752.63,441.59) scale(0.97,1)" font-size="13.3" font-weight="bold" fill="#3a3a3a">2</text>
<text transform="translate(759.80,441.59) scale(0.97,1)" font-size="13.3" font-weight="bold" fill="#3a3a3a">6</text>
<circle cx="725.8" cy="465.5" r="8.5" fill="#ececec" stroke="#c6c6c6" stroke-width="0.9"/>
<text transform="translate(717.63,470.79) scale(0.97,1)" font-size="13.3" font-weight="bold" fill="#3a3a3a">2</text>
<text transform="translate(724.80,470.79) scale(0.97,1)" font-size="13.3" font-weight="bold" fill="#3a3a3a">4</text>
<circle cx="750.6" cy="476.6" r="8.5" fill="#ececec" stroke="#c6c6c6" stroke-width="0.9"/>
<text transform="translate(741.93,481.89) scale(0.97,1)" font-size="13.3" font-weight="bold" fill="#3a3a3a">2</text>
<text transform="translate(749.10,481.89) scale(0.97,1)" font-size="13.3" font-weight="bold" fill="#3a3a3a">3</text>
<circle cx="762.5" cy="489.3" r="8.5" fill="#ececec" stroke="#c6c6c6" stroke-width="0.9"/>
<text transform="translate(754.83,494.59) scale(0.97,1)" font-size="13.3" font-weight="bold" fill="#3a3a3a">2</text>
<text transform="translate(762.00,494.59) scale(0.97,1)" font-size="13.3" font-weight="bold" fill="#3a3a3a">2</text>
<circle cx="755" cy="565.8" r="8.5" fill="#ececec" stroke="#c6c6c6" stroke-width="0.9"/>
<path transform="translate(745.83,571.09) scale(12.901,-13.300)" d="M0.393,0 L0.256,0 L0.256,0.515 Q0.18,0.445 0.077,0.41 L0.077,0.534 Q0.13,0.552 0.195,0.602 Q0.26,0.652 0.282,0.716 L0.393,0.716 Z" fill="#3a3a3a"/>
<text transform="translate(753.00,571.09) scale(0.97,1)" font-size="13.3" font-weight="bold" fill="#3a3a3a">3</text>
<circle cx="723.8" cy="582.5" r="9.5" fill="#ececec" stroke="#c6c6c6" stroke-width="0.9"/>
<path transform="translate(714.63,587.79) scale(12.901,-13.300)" d="M0.393,0 L0.256,0 L0.256,0.515 Q0.18,0.445 0.077,0.41 L0.077,0.534 Q0.13,0.552 0.195,0.602 Q0.26,0.652 0.282,0.716 L0.393,0.716 Z" fill="#3a3a3a"/>
<text transform="translate(721.80,587.79) scale(0.97,1)" font-size="13.3" font-weight="bold" fill="#3a3a3a">4</text>
<circle cx="724.8" cy="631.6" r="8.5" fill="#ececec" stroke="#c6c6c6" stroke-width="0.9"/>
<path transform="translate(716.63,636.89) scale(12.901,-13.300)" d="M0.393,0 L0.256,0 L0.256,0.515 Q0.18,0.445 0.077,0.41 L0.077,0.534 Q0.13,0.552 0.195,0.602 Q0.26,0.652 0.282,0.716 L0.393,0.716 Z" fill="#3a3a3a"/>
<text transform="translate(723.80,636.89) scale(0.97,1)" font-size="13.3" font-weight="bold" fill="#3a3a3a">6</text>
<circle cx="755.4" cy="638.6" r="10" fill="#ececec" stroke="#c6c6c6" stroke-width="0.9"/>
<path transform="translate(746.23,643.89) scale(12.901,-13.300)" d="M0.393,0 L0.256,0 L0.256,0.515 Q0.18,0.445 0.077,0.41 L0.077,0.534 Q0.13,0.552 0.195,0.602 Q0.26,0.652 0.282,0.716 L0.393,0.716 Z" fill="#3a3a3a"/>
<text transform="translate(753.40,643.89) scale(0.97,1)" font-size="13.3" font-weight="bold" fill="#3a3a3a">5</text>
<circle cx="757.3" cy="658.8" r="8.5" fill="#ececec" stroke="#c6c6c6" stroke-width="0.9"/>
<path transform="translate(749.13,664.09) scale(12.901,-13.300)" d="M0.393,0 L0.256,0 L0.256,0.515 Q0.18,0.445 0.077,0.41 L0.077,0.534 Q0.13,0.552 0.195,0.602 Q0.26,0.652 0.282,0.716 L0.393,0.716 Z" fill="#3a3a3a"/>
<text transform="translate(756.30,664.09) scale(0.97,1)" font-size="13.3" font-weight="bold" fill="#3a3a3a">7</text>
<circle cx="330.5" cy="549.3" r="6.8" fill="#ececec" stroke="#c6c6c6" stroke-width="0.9"/>
<text transform="translate(326.96,554.12) scale(0.97,1)" font-size="12" font-weight="bold" fill="#3a3a3a">8</text>
<circle cx="456" cy="591.5" r="8.3" fill="#ececec" stroke="#c6c6c6" stroke-width="0.9"/>
<path transform="translate(447.83,596.79) scale(12.901,-13.300)" d="M0.393,0 L0.256,0 L0.256,0.515 Q0.18,0.445 0.077,0.41 L0.077,0.534 Q0.13,0.552 0.195,0.602 Q0.26,0.652 0.282,0.716 L0.393,0.716 Z" fill="#3a3a3a"/>
<path transform="translate(455.00,596.79) scale(12.901,-13.300)" d="M0.393,0 L0.256,0 L0.256,0.515 Q0.18,0.445 0.077,0.41 L0.077,0.534 Q0.13,0.552 0.195,0.602 Q0.26,0.652 0.282,0.716 L0.393,0.716 Z" fill="#3a3a3a"/>
<circle cx="455.6" cy="610" r="6.6" fill="#ececec" stroke="#c6c6c6" stroke-width="0.9"/>
<text transform="translate(451.56,614.82) scale(0.97,1)" font-size="12" font-weight="bold" fill="#3a3a3a">9</text>
<circle cx="241.8" cy="595" r="6.8" fill="#ececec" stroke="#c6c6c6" stroke-width="0.9"/>
<text transform="translate(238.56,599.82) scale(0.97,1)" font-size="12" font-weight="bold" fill="#3a3a3a">6</text>
<circle cx="216.3" cy="606.3" r="8.5" fill="#ececec" stroke="#c6c6c6" stroke-width="0.9"/>
<path transform="translate(208.13,611.59) scale(12.901,-13.300)" d="M0.393,0 L0.256,0 L0.256,0.515 Q0.18,0.445 0.077,0.41 L0.077,0.534 Q0.13,0.552 0.195,0.602 Q0.26,0.652 0.282,0.716 L0.393,0.716 Z" fill="#3a3a3a"/>
<text transform="translate(215.30,611.59) scale(0.97,1)" font-size="13.3" font-weight="bold" fill="#3a3a3a">8</text>
<circle cx="197.3" cy="626.2" r="8.5" fill="#ececec" stroke="#c6c6c6" stroke-width="0.9"/>
<path transform="translate(189.13,631.49) scale(12.901,-13.300)" d="M0.393,0 L0.256,0 L0.256,0.515 Q0.18,0.445 0.077,0.41 L0.077,0.534 Q0.13,0.552 0.195,0.602 Q0.26,0.652 0.282,0.716 L0.393,0.716 Z" fill="#3a3a3a"/>
<text transform="translate(196.30,631.49) scale(0.97,1)" font-size="13.3" font-weight="bold" fill="#3a3a3a">9</text>
<circle cx="177.5" cy="643.8" r="6.8" fill="#ececec" stroke="#c6c6c6" stroke-width="0.9"/>
<text transform="translate(174.26,648.62) scale(0.97,1)" font-size="12" font-weight="bold" fill="#3a3a3a">7</text>
<text x="160.6" y="723.4" font-size="10.3" font-weight="bold" fill="#222" textLength="60.6" lengthAdjust="spacingAndGlyphs">ETN176126C</text>
<g id="wm">
<rect x="273" y="298.8" width="29" height="132.4" fill="#fff" fill-opacity="0.77"/>
<rect x="301.7" y="298.8" width="238.6" height="132.4" fill="#fff"/>
<rect x="540" y="298.8" width="27.8" height="132.4" fill="#fff" fill-opacity="0.77"/>
<polygon points="478.3,299.7 501.7,313 501.7,334.7 478.3,328" fill="#e9e9e9" opacity="1"/>
<line x1="480.2" y1="301.2" x2="480.2" y2="328.6" stroke="#d6d6d6" stroke-width="0.9"/>
<line x1="482.4" y1="302.4" x2="482.4" y2="329.2" stroke="#d6d6d6" stroke-width="0.9"/>
<line x1="484.6" y1="303.7" x2="484.6" y2="329.8" stroke="#d6d6d6" stroke-width="0.9"/>
<line x1="486.8" y1="304.9" x2="486.8" y2="330.5" stroke="#d6d6d6" stroke-width="0.9"/>
<line x1="489.0" y1="306.2" x2="489.0" y2="331.1" stroke="#d6d6d6" stroke-width="0.9"/>
<line x1="491.2" y1="307.4" x2="491.2" y2="331.7" stroke="#d6d6d6" stroke-width="0.9"/>
<line x1="493.4" y1="308.7" x2="493.4" y2="332.3" stroke="#d6d6d6" stroke-width="0.9"/>
<line x1="495.6" y1="309.9" x2="495.6" y2="332.9" stroke="#d6d6d6" stroke-width="0.9"/>
<line x1="497.8" y1="311.2" x2="497.8" y2="333.6" stroke="#d6d6d6" stroke-width="0.9"/>
<line x1="500.0" y1="312.4" x2="500.0" y2="334.2" stroke="#d6d6d6" stroke-width="0.9"/>
<path d="M478.3,299.7 L501.7,313 L501.7,334.7" fill="none" stroke="#dadada" stroke-width="0.8"/>
<polygon points="435.8,310.5 448.3,314.7 444.5,323.2 434.2,322.6" fill="#e9e9e9" opacity="1"/>
<line x1="435.6" y1="311.6" x2="447.6" y2="315.0" stroke="#d8d8d8" stroke-width="0.8"/>
<line x1="435.4" y1="313.5" x2="446.9" y2="316.9" stroke="#d8d8d8" stroke-width="0.8"/>
<line x1="435.2" y1="315.4" x2="446.2" y2="318.8" stroke="#d8d8d8" stroke-width="0.8"/>
<line x1="435.0" y1="317.3" x2="445.5" y2="320.7" stroke="#d8d8d8" stroke-width="0.8"/>
<line x1="434.8" y1="319.2" x2="444.8" y2="322.6" stroke="#d8d8d8" stroke-width="0.8"/>
<line x1="434.6" y1="321.1" x2="444.1" y2="324.5" stroke="#d8d8d8" stroke-width="0.8"/>
<path d="M444.8,323.5 Q447.5,316.6 452,316 Q458,314.6 466.5,317.6 L475.8,317.8 L477,328.5 L462,330 Z" fill="#e1e1e1"/>
<polygon points="465.8,328.8 476.7,327.6 501.7,335.5 530,348 532,354.7 528.3,357.4 524.2,353.5 521.7,363 516.7,376.3 475,371.3 458.3,363.8" fill="#e4e4e4" opacity="1"/>
<path d="M476.7,328 L472.8,362.5 M474.5,343 L520.5,354.5 M501.7,335.5 L523,345.5" fill="none" stroke="#f7f7f7" stroke-width="1.1"/>
<polygon points="487.5,338.5 516,347.8 515.5,350.2 487.2,341.2" fill="#f0f0f0" opacity="1"/>
<polygon points="476,346 520,357 518,365.5 474.5,357.5" fill="#dcdcdc" opacity="1"/>
<polygon points="416.7,329.7 465,328 457.5,363 421.7,364.7" fill="#e2e2e2" opacity="1"/>
<polygon points="423.3,333 444.2,331.4 450,360.5 425.2,362.2" fill="#f1f1f1" opacity="1"/>
<polygon points="433.5,337 441.5,336 446.5,359.8 431.5,360.8 432,349" fill="#dbdbdb" opacity="1"/>
<polygon points="448.4,331.3 462.4,330.5 456.7,359.7 452.8,360.3" fill="#efefef" opacity="1"/>
<path d="M444.2,331.4 L450,360.5 M448.4,331.3 L452.8,360.3" fill="none" stroke="#fafafa" stroke-width="0.9"/>
<path d="M418,330.4 L464,328.7" fill="none" stroke="#f4f4f4" stroke-width="0.9"/>
<path d="M406.5,343.5 L405,338.5 Q405,336.6 407.5,336 L420,333.6" fill="none" stroke="#dcdcdc" stroke-width="1.8"/>
<polygon points="420,364 462,366 480,381 521,372.5 527,392 470,395 424,388" fill="#f3f3f3" opacity="1"/>
<polygon points="457,369 479,381.5 478,388 457,382" fill="#e2e2e2" opacity="1"/>
<ellipse cx="511" cy="383" rx="8" ry="6.5" fill="#e4e4e4"/>
<path d="M421,364.5 L461,366.5 L479.5,381 L521,372.5" fill="none" stroke="#dcdcdc" stroke-width="1"/>
<polygon points="420,388 530,391 537,410 508,427 430,411 420,404" fill="#f2f2f2" opacity="1"/>
<polygon points="423,391 505,395 505,399 424,395" fill="#e4e4e4" opacity="1"/>
<polygon points="430,405 505,414 507,425.5 433,410" fill="#e6e6e6" opacity="1"/>
<ellipse cx="527.3" cy="408" rx="9.5" ry="20" transform="rotate(22 527.3 408)" fill="#e0e0e0"/>
<ellipse cx="524.5" cy="409" rx="6" ry="15.5" transform="rotate(22 524.5 409)" fill="#efefef"/>
<clipPath id="gclip"><path d="M295,325 L385,325 L385,371 Q362,370.3 335,375 Q318,379 300,388 L295,388 Z"/></clipPath>
<linearGradient id="ggrad" gradientUnits="userSpaceOnUse" x1="305" y1="338" x2="372" y2="385"><stop offset="0" stop-color="#bcbcbc"/><stop offset="0.5" stop-color="#a8a8a8"/><stop offset="1" stop-color="#979797"/></linearGradient>
<path d="M337.0,340.8 L338.7,335.0 L343.1,335.3 L344.1,341.3 L347.7,342.1 L351.4,337.2 L355.4,339.0 L354.3,345.0 L357.4,347.0 L362.5,343.7 L365.7,346.7 L362.6,352.0 L364.8,354.9 L370.8,353.5 L372.7,357.4 L368.0,361.3 L369.1,364.9 L375.1,365.6 L375.6,370.0 L369.9,372.0 L369.7,375.7 L375.1,378.4 L374.1,382.7 L368.0,382.7 L366.5,386.1 L370.7,390.5 L368.3,394.2 L362.6,392.1 L360.0,394.8 L362.5,400.4 L358.9,403.0 L354.3,399.0 L351.0,400.7 L351.3,406.8 L347.1,408.0 L344.1,402.7 L340.4,403.2 L338.7,409.0 L334.3,408.7 L333.3,402.7 L329.7,401.9 L326.0,406.8 L322.0,405.0 L323.1,399.0 L320.0,397.0 L314.9,400.3 L311.7,397.3 L314.8,392.0 L312.6,389.1 L306.6,390.5 L304.7,386.6 L309.4,382.7 L308.3,379.1 L302.3,378.4 L301.8,374.0 L307.5,372.0 L307.7,368.3 L302.3,365.6 L303.3,361.3 L309.4,361.3 L310.9,357.9 L306.7,353.5 L309.1,349.8 L314.8,351.9 L317.4,349.2 L314.9,343.6 L318.5,341.0 L323.1,345.0 L326.4,343.3 L326.1,337.2 L330.3,336.0 L333.3,341.3Z M311.5,364.7 a21.5,21.5 0 1 0 43.0,0 a21.5,21.5 0 1 0 -43.0,0Z" fill="url(#ggrad)" fill-rule="evenodd" clip-path="url(#gclip)"/>
<clipPath id="gclip2"><path d="M298,402 L313.5,395.5 Q330,388 347,382.3 L347,412 L298,412 Z"/></clipPath>
<path d="M337.0,340.8 L338.7,335.0 L343.1,335.3 L344.1,341.3 L347.7,342.1 L351.4,337.2 L355.4,339.0 L354.3,345.0 L357.4,347.0 L362.5,343.7 L365.7,346.7 L362.6,352.0 L364.8,354.9 L370.8,353.5 L372.7,357.4 L368.0,361.3 L369.1,364.9 L375.1,365.6 L375.6,370.0 L369.9,372.0 L369.7,375.7 L375.1,378.4 L374.1,382.7 L368.0,382.7 L366.5,386.1 L370.7,390.5 L368.3,394.2 L362.6,392.1 L360.0,394.8 L362.5,400.4 L358.9,403.0 L354.3,399.0 L351.0,400.7 L351.3,406.8 L347.1,408.0 L344.1,402.7 L340.4,403.2 L338.7,409.0 L334.3,408.7 L333.3,402.7 L329.7,401.9 L326.0,406.8 L322.0,405.0 L323.1,399.0 L320.0,397.0 L314.9,400.3 L311.7,397.3 L314.8,392.0 L312.6,389.1 L306.6,390.5 L304.7,386.6 L309.4,382.7 L308.3,379.1 L302.3,378.4 L301.8,374.0 L307.5,372.0 L307.7,368.3 L302.3,365.6 L303.3,361.3 L309.4,361.3 L310.9,357.9 L306.7,353.5 L309.1,349.8 L314.8,351.9 L317.4,349.2 L314.9,343.6 L318.5,341.0 L323.1,345.0 L326.4,343.3 L326.1,337.2 L330.3,336.0 L333.3,341.3Z" fill="#9b9b9b" clip-path="url(#gclip2)"/>
<path d="M305.5,383.5 Q335,372.5 362,370.3 Q390,369.6 415.7,371.4 L415.7,375.2 Q392,375.2 376.6,377.6 Q350,381 313.5,396 Z" fill="#c9c9c9"/>
<path d="M306.8,386 Q336,375 364,372.6 Q392,372 415.7,372.8" fill="none" stroke="#f2f2f2" stroke-width="0.8"/>
<path d="M308.8,389 Q338,377.6 366,375 Q392,373.8 415.7,374" fill="none" stroke="#f2f2f2" stroke-width="0.8"/>
<path d="M311,392.4 Q340,380.4 372,377" fill="none" stroke="#f2f2f2" stroke-width="0.8"/>
<text x="420.4" y="379.6" font-size="13.8" fill="#fff" stroke="#fff" stroke-width="2" textLength="32.6" lengthAdjust="spacingAndGlyphs">ООО</text>
<text x="420.4" y="379.6" font-size="13.8" fill="#979797" stroke="#979797" stroke-width="0.45" textLength="32.6" lengthAdjust="spacingAndGlyphs">ООО</text>
<text x="342.5" y="409.8" font-family="Liberation Serif, serif" fill="#fff" stroke="#fff" stroke-width="3.6" stroke-linejoin="round" textLength="178.5" lengthAdjust="spacingAndGlyphs"><tspan font-size="33.5">А</tspan><tspan font-size="31.5">ГРОСНАБ</tspan></text>
<text x="342.5" y="409.8" font-family="Liberation Serif, serif" fill="#9e9e9e" stroke="#9e9e9e" stroke-width="1.0" textLength="178.5" lengthAdjust="spacingAndGlyphs"><tspan font-size="33.5">А</tspan><tspan font-size="31.5">ГРОСНАБ</tspan></text>
<text x="539.3" y="417.6" font-size="29.5" fill="#333">u</text>
</g>
</g>
</svg>
</body></html>
